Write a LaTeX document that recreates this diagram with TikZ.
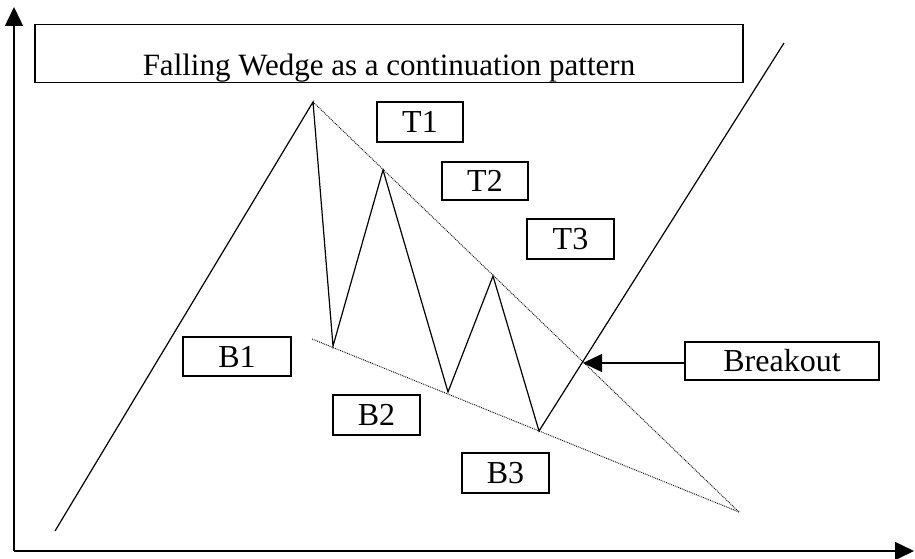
\documentclass[tikz,border=0pt]{standalone}
\usepackage{fontspec}
\setmainfont{Liberation Serif}
\usepackage{tikz}
\usetikzlibrary{arrows.meta}
\newcommand{\wedgefont}{\fontsize{32}{36}\selectfont}
\tikzset{
    labelbox/.style={draw, line width=1.1pt, inner sep=0pt, minimum height=39pt, font=\wedgefont},
    trend/.style={densely dotted, line width=0.9pt},
    bigtip/.style={-{Triangle[length=19pt,width=18pt]}}
}
\begin{document}
\begin{tikzpicture}[x=1pt, y=-1pt, line width=1.2pt]
    \useasboundingbox (0,0) rectangle (915,559);
    \coordinate (origin) at (14,551);
    \coordinate (ytop) at (14,7);
    \coordinate (xend) at (914,551);
    \draw[bigtip, line width=1.5pt] (origin) -- (ytop);
    \draw[bigtip, line width=1.5pt] (origin) -- (xend);
    \node[labelbox, font=\fontsize{31}{36}\selectfont, minimum width=708pt, text height=51pt, text depth=7pt, anchor=north] (title) at (389,24) {Falling Wedge as a continuation pattern};
    \coordinate (start) at (55,531);
    \coordinate (peak) at (313,102);
    \coordinate (low1) at (333,346);
    \coordinate (high2) at (383,170);
    \coordinate (low2) at (448,392);
    \coordinate (high3) at (493,276);
    \coordinate (low3) at (539,431);
    \coordinate (rally) at (784,43);
    \coordinate (apex) at (739,512);
    \coordinate (support) at (312,339);
    \coordinate (brk) at (583,363);
    \draw (start) -- (peak) -- (low1) -- (high2) -- (low2) -- (high3) -- (low3) -- (rally);
    \draw[trend] (peak) -- (apex);
    \draw[trend] (support) -- (apex);
    \node[labelbox, minimum width=86pt, minimum height=40pt] (t1) at (420,122) {T1};
    \node[labelbox, minimum width=86pt, minimum height=38pt] (t2) at (485,181) {T2};
    \node[labelbox, minimum width=87pt, minimum height=40pt] (t3) at (570.5,239) {T3};
    \node[labelbox, minimum width=108pt] (b1) at (237,356.5) {B1};
    \node[labelbox, minimum width=87pt, minimum height=40pt] (b2) at (376.5,415) {B2};
    \node[labelbox, minimum width=87pt, minimum height=40pt] (b3) at (505.5,473) {B3};
    \node[labelbox, minimum width=194pt, minimum height=38pt] (breakout) at (782,361) {Breakout};
    \draw[bigtip] (breakout.west |- brk) -- (brk);
\end{tikzpicture}
\end{document}
